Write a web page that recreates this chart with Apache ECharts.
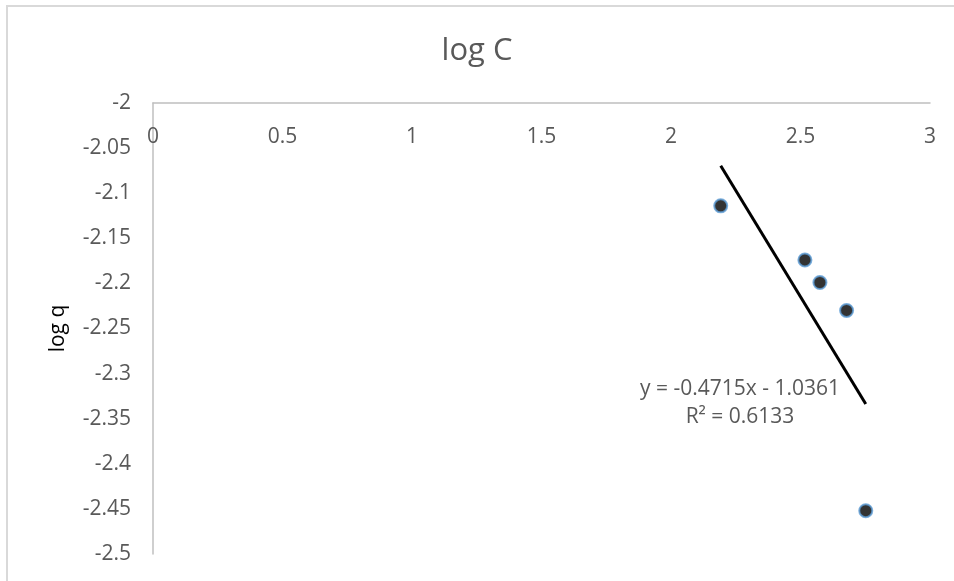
<!DOCTYPE html>
<html>
<head>
<meta charset="utf-8">
<title>log C</title>
<script src="https://cdn.jsdelivr.net/npm/echarts@6/dist/echarts.min.js"></script>
<style>
  html, body { margin: 0; padding: 0; background: #fff; }
  #chart { width: 954px; height: 581px; }
</style>
</head>
<body>
<div id="chart"></div>
<script>
// Measured points: x = log C, y = log q
const logC = [2.192, 2.517, 2.575, 2.678, 2.752];
const logQ = [-2.114, -2.174, -2.199, -2.230, -2.452];

// Linear trendline coefficients (y = slope * x + intercept) and fit quality
const trendSlope = -0.4715;
const trendIntercept = -1.0361;
const trendR2 = 0.6133;

const FONT = '"Open Sans", "Liberation Sans", sans-serif';
const LABEL_GREY = '#595959';
const AXIS_GREY = '#bfbfbf';

const points = logC.map((x, i) => [x, logQ[i]]);

// Trendline spans the range of the measured x values
const xMin = Math.min(...logC);
const xMax = Math.max(...logC);
const trendLine = [xMin, xMax].map(x => [x, trendSlope * x + trendIntercept]);

const fmt = (v, d) => v.toFixed(d);
const eqText = 'y = ' + fmt(trendSlope, 4) + 'x ' + (trendIntercept < 0 ? '- ' : '+ ') +
  fmt(Math.abs(trendIntercept), 4);
const r2Text = 'R\u00b2 = ' + fmt(trendR2, 4);

const chart = echarts.init(document.getElementById('chart'), null, { renderer: 'canvas' });

chart.setOption({
  animation: false,
  backgroundColor: '#fff',
  title: {
    text: 'log C',
    left: 'center',
    top: 31,
    textStyle: { fontFamily: FONT, fontSize: 31, fontWeight: 'normal', color: LABEL_GREY }
  },
  grid: { left: 153, right: 24, top: 103, bottom: 27, containLabel: false },
  xAxis: {
    type: 'value',
    position: 'top',
    min: 0,
    max: 3,
    interval: 0.5,
    axisLine: { onZero: false, lineStyle: { color: AXIS_GREY, width: 1.5 } },
    axisTick: { show: false },
    splitLine: { show: false },
    axisLabel: {
      inside: true,
      margin: 24,
      fontFamily: FONT,
      fontSize: 21,
      color: LABEL_GREY,
      verticalAlign: 'top'
    }
  },
  yAxis: {
    type: 'value',
    min: -2.5,
    max: -2,
    interval: 0.05,
    name: 'log q',
    nameLocation: 'middle',
    nameGap: 84,
    nameRotate: 90,
    nameTextStyle: { fontFamily: FONT, fontSize: 21, color: '#000' },
    axisLine: { show: true, onZero: false, lineStyle: { color: AXIS_GREY, width: 1.5 } },
    axisTick: { show: false },
    splitLine: { show: false },
    axisLabel: {
      margin: 22,
      fontFamily: FONT,
      fontSize: 21,
      color: LABEL_GREY,
      formatter: v => String(Math.round(v * 100) / 100)
    }
  },
  series: [
    {
      name: 'trend',
      type: 'line',
      data: trendLine,
      symbol: 'none',
      lineStyle: { color: '#000', width: 3 },
      z: 2
    },
    {
      name: 'log q',
      type: 'scatter',
      data: points,
      symbol: 'circle',
      symbolSize: 13,
      itemStyle: { color: '#000', borderColor: '#5b9bd5', borderWidth: 2 },
      z: 3
    }
  ],
  graphic: [
    {
      type: 'rect',
      silent: true,
      shape: { x: 7, y: 6, width: 1000, height: 700 },
      style: { fill: 'none', stroke: '#d9d9d9', lineWidth: 2 }
    },
    {
      type: 'text',
      silent: true,
      x: 740,
      y: 375,
      style: {
        text: eqText + '\n' + r2Text,
        align: 'center',
        verticalAlign: 'top',
        fontFamily: FONT,
        fontSize: 21,
        lineHeight: 28,
        fill: LABEL_GREY
      }
    }
  ]
});
</script>
</body>
</html>
